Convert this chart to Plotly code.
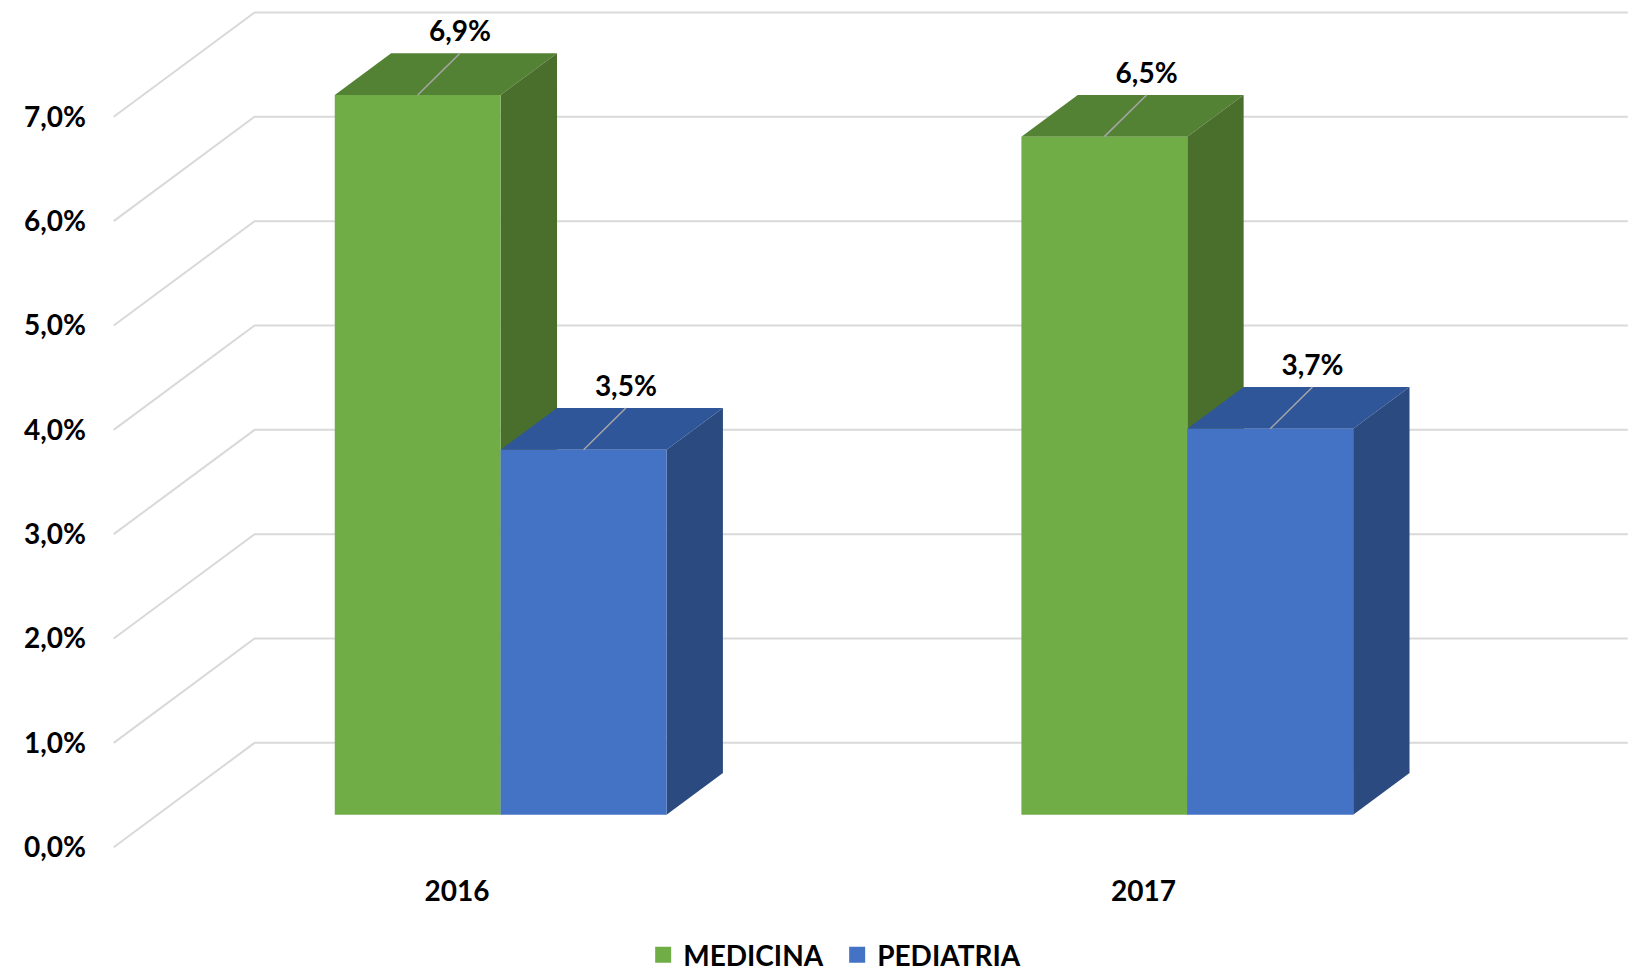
import plotly.graph_objects as go

# ---- data ----
years = ["2016", "2017"]
series_names = ["MEDICINA", "PEDIATRIA"]
medicina = [6.9, 6.5]
pediatria = [3.5, 3.7]
y_ticks = [0, 1, 2, 3, 4, 5, 6, 7]
y_tick_labels = ["0,0%", "1,0%", "2,0%", "3,0%", "4,0%", "5,0%", "6,0%", "7,0%"]

# ---- style / projection ----
FRONT = ["#70AD47", "#4472C4"]
TOP = ["#548235", "#30569A"]
SIDE = ["#4A6E2B", "#2B4A80"]
GRID = "#D9D9D9"
DX = 0.2052          # x shift for full depth (category units)
DY = 1.0             # y shift for full depth (value units)
D0, D1 = 0.31, 0.71  # bar depth span (fraction of floor depth)
W = 0.2416           # bar width (category units)
LEADER_X = 0.30      # leader horizontal reach (fraction of DX)
LABEL_LIFT = 0.045   # gap between leader end and label (value units)
FONT = dict(family="Lato", size=28, color="black", weight="bold")

fig = go.Figure()

# gridlines: side wall diagonals + back wall
gx, gy = [], []
x_lo, x_hi = -0.5, len(years) - 0.5
for k in y_ticks:
    gx += [x_lo, x_lo + DX, x_hi + DX, None]
    gy += [k, k + DY, k + DY, None]
fig.add_trace(go.Scatter(x=gx, y=gy, mode="lines", line=dict(color=GRID, width=2),
                         hoverinfo="skip", showlegend=False))

def poly(xs, ys, color):
    fig.add_trace(go.Scatter(x=xs + [xs[0]], y=ys + [ys[0]], mode="lines", fill="toself",
                             fillcolor=color, line=dict(width=0, color=color),
                             hoverinfo="skip", showlegend=False))

series = [medicina, pediatria]
lab_x, lab_y, lab_t = [], [], []
lead_x, lead_y = [], []
for i in range(len(years)):
    for s, vals in enumerate(series):
        v = vals[i]
        xl = i + D0 * DX + (s - 1) * W
        xr = xl + W
        y0 = D0 * DY
        ddx = (D1 - D0) * DX
        ddy = (D1 - D0) * DY
        # top face
        poly([xl, xr, xr + ddx, xl + ddx], [v + y0, v + y0, v + y0 + ddy, v + y0 + ddy], TOP[s])
        # side face
        poly([xr, xr + ddx, xr + ddx, xr], [y0, y0 + ddy, v + y0 + ddy, v + y0], SIDE[s])
        # front face
        poly([xl, xr, xr, xl], [y0, y0, v + y0, v + y0], FRONT[s])
        xc = (xl + xr) / 2
        ex = xc + LEADER_X * DX
        ey = v + D1 * DY
        lead_x += [xc, ex, None]
        lead_y += [v + y0, ey, None]
        lab_x.append(ex)
        lab_y.append(ey + LABEL_LIFT)
        lab_t.append(f"{v:.1f}%".replace(".", ","))

fig.add_trace(go.Scatter(x=lead_x, y=lead_y, mode="lines", line=dict(color="#A6A6A6", width=1.5),
                         hoverinfo="skip", showlegend=False))
fig.add_trace(go.Scatter(x=lab_x, y=lab_y, mode="text", text=lab_t, textposition="top center",
                         textfont=FONT, hoverinfo="skip", showlegend=False))

# legend entries
for s, name in enumerate(series_names):
    fig.add_trace(go.Scatter(x=[None], y=[None], mode="markers", name=name,
                             marker=dict(symbol="square", size=16, color=FRONT[s])))

fig.update_layout(
    width=1636, height=969,
    margin=dict(l=87, r=14, t=0, b=115, autoexpand=False),
    paper_bgcolor="white", plot_bgcolor="white",
    font=FONT,
    showlegend=True,
    legend=dict(orientation="h", x=0.4835, xanchor="center", y=-0.1089, yanchor="middle",
                font=FONT, itemsizing="trace", entrywidth=149, entrywidthmode="pixels"),
    xaxis=dict(range=[-0.5272, 1.7084], tickvals=list(range(len(years))), ticktext=years,
               showgrid=False, zeroline=False, showline=False, ticks="",
               ticklabelstandoff=10, tickfont=FONT, fixedrange=True),
    yaxis=dict(range=[-0.142, 8.043], tickvals=y_ticks, ticktext=y_tick_labels,
               showgrid=False, zeroline=False, showline=False, ticks="",
               ticklabelstandoff=8, tickfont=FONT, fixedrange=True),
)

fig.write_html("out.html")
